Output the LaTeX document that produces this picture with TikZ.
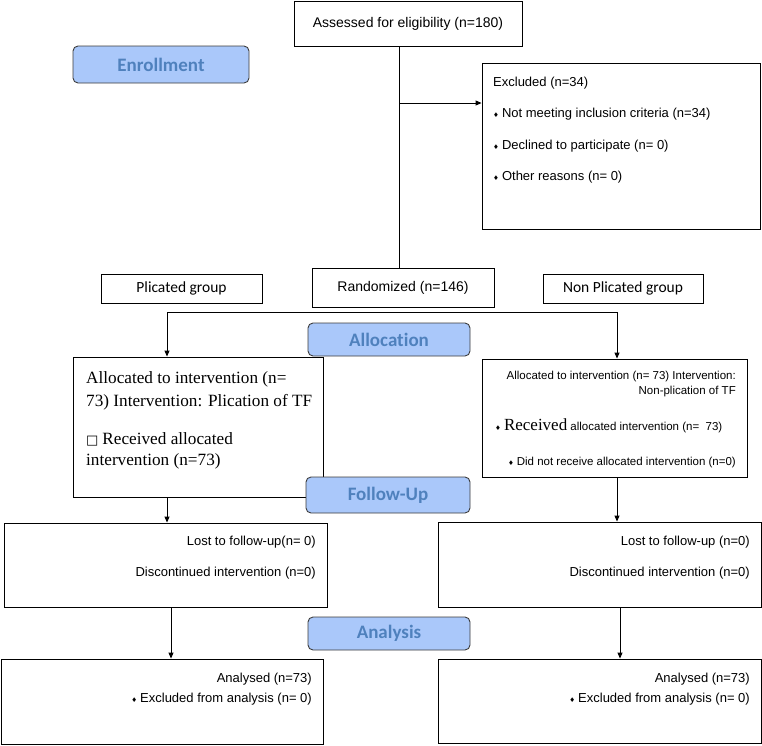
\documentclass[tikz,border=0pt]{standalone}
\usepackage{fontspec}
\setmainfont{Liberation Sans}
\newfontfamily\serifrm{Liberation Serif}
\newfontfamily\calib[Ligatures=NoCommon]{Carlito}
\newfontfamily\symfont{DejaVu Sans}
\usetikzlibrary{arrows.meta}

\definecolor{phasefill}{RGB}{170,200,250}
\definecolor{phasetext}{RGB}{79,129,189}
\definecolor{phaseedge}{RGB}{60,60,60}

\newcommand{\dmd}{{\symfont\fontsize{6.5}{6.5}\selectfont ♦}\hspace{3pt}}

\tikzset{
  box/.style={draw, line width=0.9pt, inner sep=0pt},
  phase/.style={draw=phaseedge, fill=phasefill, line width=0.9pt, rounded corners=5pt,
    text=phasetext, font=\calib\bfseries\fontsize{19}{19}\selectfont, inner sep=0pt},
  txt/.style={font=\fontsize{13}{15}\selectfont, inner sep=0pt},
  small/.style={font=\fontsize{11.5}{13}\selectfont, inner sep=0pt},
  serif/.style={font=\serifrm\fontsize{17.2}{20}\selectfont, inner sep=0pt},
  arr/.style={line width=0.9pt, -{Triangle[length=6pt,width=5pt]}}
}

\begin{document}
\begin{tikzpicture}[x=1pt, y=-1pt]
  \useasboundingbox (0,0) rectangle (762,745);

  % enrollment
  \node[box, minimum width=228, minimum height=45, font=\fontsize{14}{16}\selectfont]
    (assess) at (408,23.5) {Assessed for eligibility (n=180)};
  \node[phase, minimum width=176, minimum height=37] (enroll) at (161,64.5) {Enrollment};
  \node[box, minimum width=278, minimum height=166] (excl) at (621,146) {};
  \node[txt, anchor=west] (exclA) at (493,83)  {Excluded (n=34)};
  \node[txt, anchor=west] (exclB) at (493,114) {\dmd Not meeting inclusion criteria (n=34)};
  \node[txt, anchor=west] (exclC) at (493,146) {\dmd Declined to participate (n= 0)};
  \node[txt, anchor=west] (exclD) at (493,177) {\dmd Other reasons (n= 0)};

  \node[box, minimum width=161, minimum height=29, font=\calib\fontsize{15.5}{17}\selectfont]
    (plic) at (181.5,288.5) {Plicated group};
  \node[box, minimum width=182, minimum height=39, font=\fontsize{14}{16}\selectfont]
    (rand) at (403,287.5) {Randomized (n=146)};
  \node[box, minimum width=160, minimum height=29, font=\calib\fontsize{15.5}{17}\selectfont]
    (nonplic) at (623,288.5) {Non Plicated group};

  \coordinate (split) at (399,103);
  \draw[line width=0.9pt] (split |- assess.south) -- (split |- rand.north);
  \draw[arr] (split) -- (split -| excl.west);

  % allocation
  \node[phase, minimum width=162, minimum height=33] (alloc) at (389,339.5) {Allocation};
  \node[box, minimum width=250, minimum height=140] (allocL) at (198,427) {};
  \node[serif, anchor=west] (allocLa) at (86,379) {Allocated to intervention (n=};
  \node[serif, anchor=west] (allocLb) at (86,402) {73) Intervention: Plication of TF};
  \node[serif, anchor=west] (allocLc) at (86,439) {{\symfont\fontsize{13}{13}\selectfont □}\hspace{4pt}Received allocated};
  \node[serif, anchor=west] (allocLd) at (86,461) {intervention (n=73)};

  \node[box, minimum width=265, minimum height=118] (allocR) at (614.5,418) {};
  \node[small, anchor=east] (allocRa) at (736,377) {Allocated to intervention (n= 73) Intervention:};
  \node[small, anchor=east] (allocRb) at (736,392) {Non-plication of TF};
  \node[small, anchor=west] (allocRc) at (495,426)
    {\dmd{\serifrm\fontsize{17}{17}\selectfont Received} allocated intervention (n=\ \ 73)};
  \node[small, anchor=east] (allocRd) at (736,463) {\dmd Did not receive allocated intervention (n=0)};

  \coordinate (forkL) at (167,312);
  \coordinate (forkR) at (617,312);
  \draw[arr] (forkR) -- (forkL) -- (forkL |- allocL.north);
  \draw[arr] (forkR) -- (forkR |- allocR.north);

  % follow-up
  \node[phase, minimum width=164, minimum height=36] (follow) at (388,495) {Follow-Up};
  \node[box, minimum width=323, minimum height=84] (lostL) at (165.5,565) {};
  \node[txt, anchor=east] (lostLa) at (316,542) {Lost to follow-up(n= 0)};
  \node[txt, anchor=east] (lostLb) at (316,573) {Discontinued intervention (n=0)};
  \node[box, minimum width=323, minimum height=85] (lostR) at (599.5,564.5) {};
  \node[txt, anchor=east] (lostRa) at (750,542) {Lost to follow-up (n=0)};
  \node[txt, anchor=east] (lostRb) at (750,573) {Discontinued intervention (n=0)};

  \draw[arr] (forkL |- allocL.south) -- (forkL |- lostL.north);
  \draw[arr] (forkR |- allocR.south) -- (forkR |- lostR.north);

  % analysis
  \node[phase, minimum width=162, minimum height=33] (anal) at (389,633.5) {Analysis};
  \node[box, minimum width=322, minimum height=85] (analL) at (162,701.5) {};
  \node[txt, anchor=east] (analLa) at (312,679) {Analysed (n=73)};
  \node[txt, anchor=east] (analLb) at (312,699) {\dmd Excluded from analysis (n= 0)};
  \node[box, minimum width=323, minimum height=84] (analR) at (599.5,701) {};
  \node[txt, anchor=east] (analRa) at (750,679) {Analysed (n=73)};
  \node[txt, anchor=east] (analRb) at (750,699) {\dmd Excluded from analysis (n= 0)};

  \draw[arr] ([xshift=5.5pt]lostL.south) -- ([xshift=5.5pt]lostL.south |- analL.north);
  \draw[arr] ([xshift=20.5pt]lostR.south) -- ([xshift=20.5pt]lostR.south |- analR.north);
\end{tikzpicture}
\end{document}
